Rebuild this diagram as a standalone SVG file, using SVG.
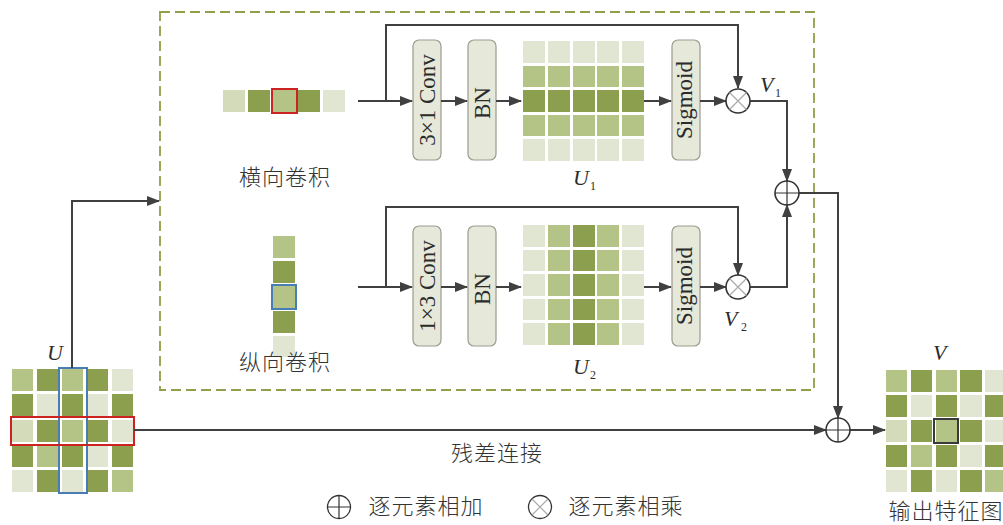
<svg xmlns="http://www.w3.org/2000/svg" width="1003" height="525" viewBox="0 0 1003 525">
<defs>
<style>
.vl{fill:#e0e6d2}.lt{fill:#d3dbbb}.md{fill:#b4c386}.dk{fill:#8b9f4e}
.box{fill:#e6e9d9;stroke:#9c9c90;stroke-width:1.2}
.ln{fill:none;stroke:#404040;stroke-width:2}
.arr{fill:none;stroke:#404040;stroke-width:2;marker-end:url(#ah)}
.op{fill:#fff;stroke:#333;stroke-width:1.6}
.xop{stroke:#aaa;stroke-width:1.2}
.pop{stroke:#333;stroke-width:1.2}
.bt{font-family:"Liberation Serif",serif;font-size:23px;fill:#2b2b2b}
.it{font-family:"Liberation Serif",serif;font-style:italic;font-size:22px;fill:#2b2b2b}
.sub{font-family:"Liberation Serif",serif;font-size:12px;fill:#2b2b2b}
.cn{font-family:"Noto Sans CJK SC","Noto Sans CJK JP",sans-serif;font-size:22px;font-weight:300;letter-spacing:1px;fill:#333;text-anchor:middle}
</style>
<marker id="ah" markerWidth="13" markerHeight="10" refX="12" refY="5" orient="auto" markerUnits="userSpaceOnUse">
<path d="M0,0 L13,5 L0,10 z" fill="#404040"/>
</marker>
</defs>
<rect width="1003" height="525" fill="#fff"/>

<!-- dashed module box -->
<rect id="module" x="160" y="12" width="654" height="378" fill="none" stroke="#8fa048" stroke-width="1.8" stroke-dasharray="10 5"/>

<!-- input grid U -->
<g id="inputU">
<rect class="md" x="12" y="369" width="21" height="22"/><rect class="dk" x="37" y="369" width="21" height="22"/><rect class="md" x="62" y="369" width="21" height="22"/><rect class="dk" x="87" y="369" width="21" height="22"/><rect class="vl" x="112" y="369" width="21" height="22"/>
<rect class="dk" x="12" y="394" width="21" height="22"/><rect class="vl" x="37" y="394" width="21" height="22"/><rect class="dk" x="62" y="394" width="21" height="22"/><rect class="vl" x="87" y="394" width="21" height="22"/><rect class="dk" x="112" y="394" width="21" height="22"/>
<rect class="lt" x="12" y="420" width="21" height="22"/><rect class="dk" x="37" y="420" width="21" height="22"/><rect class="md" x="62" y="420" width="21" height="22"/><rect class="dk" x="87" y="420" width="21" height="22"/><rect class="vl" x="112" y="420" width="21" height="22"/>
<rect class="dk" x="12" y="445" width="21" height="22"/><rect class="md" x="37" y="445" width="21" height="22"/><rect class="dk" x="62" y="445" width="21" height="22"/><rect class="vl" x="87" y="445" width="21" height="22"/><rect class="dk" x="112" y="445" width="21" height="22"/>
<rect class="vl" x="12" y="470" width="21" height="22"/><rect class="dk" x="37" y="470" width="21" height="22"/><rect class="vl" x="62" y="470" width="21" height="22"/><rect class="dk" x="87" y="470" width="21" height="22"/><rect class="md" x="112" y="470" width="21" height="22"/>
<rect x="59" y="368" width="28" height="125" fill="none" stroke="#4a7cb5" stroke-width="2"/>
<rect x="11" y="417" width="123" height="28" fill="none" stroke="#cc2222" stroke-width="2"/>
<text class="it" x="47" y="360">U</text>
</g>

<!-- horizontal strip -->
<g id="hstrip">
<rect class="lt" x="223" y="90" width="22" height="22"/><rect class="dk" x="248" y="90" width="22" height="22"/><rect class="md" x="273" y="90" width="23" height="22"/><rect class="dk" x="298" y="90" width="22" height="22"/><rect class="vl" x="323" y="90" width="22" height="22"/>
<rect x="272" y="89" width="25" height="24" fill="none" stroke="#cc2222" stroke-width="2"/>
<text class="cn" x="285" y="185">横向卷积</text>
</g>

<!-- vertical strip -->
<g id="vstrip">
<rect class="md" x="273" y="236" width="22" height="22"/><rect class="dk" x="273" y="261" width="22" height="22"/><rect class="md" x="273" y="286" width="22" height="22"/><rect class="dk" x="273" y="311" width="22" height="22"/><rect class="vl" x="273" y="336" width="22" height="21"/>
<rect x="272" y="285" width="24" height="24" fill="none" stroke="#4a7cb5" stroke-width="2"/>
<text class="cn" x="285" y="370">纵向卷积</text>
</g>

<!-- top branch boxes -->
<g id="conv31"><rect class="box" x="413" y="40" width="28" height="120" rx="6"/><text class="bt" transform="translate(435,100) rotate(-90)" text-anchor="middle">3×1 Conv</text></g>
<g id="bn1"><rect class="box" x="468" y="40" width="28" height="120" rx="6"/><text class="bt" transform="translate(490,103) rotate(-90)" text-anchor="middle">BN</text></g>
<g id="sig1"><rect class="box" x="672" y="40" width="28" height="120" rx="6"/><text class="bt" transform="translate(692,100) rotate(-90)" text-anchor="middle">Sigmoid</text></g>

<!-- bottom branch boxes -->
<g id="conv13"><rect class="box" x="413" y="226" width="28" height="120" rx="6"/><text class="bt" transform="translate(435,286) rotate(-90)" text-anchor="middle">1×3 Conv</text></g>
<g id="bn2"><rect class="box" x="468" y="226" width="28" height="120" rx="6"/><text class="bt" transform="translate(490,289) rotate(-90)" text-anchor="middle">BN</text></g>
<g id="sig2"><rect class="box" x="672" y="226" width="28" height="120" rx="6"/><text class="bt" transform="translate(692,286) rotate(-90)" text-anchor="middle">Sigmoid</text></g>

<!-- U1 grid -->
<g id="U1">
<rect class="vl" x="523" y="41" width="22" height="22"/><rect class="vl" x="548" y="41" width="22" height="22"/><rect class="vl" x="573" y="41" width="22" height="22"/><rect class="vl" x="597" y="41" width="22" height="22"/><rect class="vl" x="622" y="41" width="22" height="22"/>
<rect class="md" x="523" y="66" width="22" height="21"/><rect class="md" x="548" y="66" width="22" height="21"/><rect class="md" x="573" y="66" width="22" height="21"/><rect class="md" x="597" y="66" width="22" height="21"/><rect class="md" x="622" y="66" width="22" height="21"/>
<rect class="dk" x="523" y="90" width="22" height="22"/><rect class="dk" x="548" y="90" width="22" height="22"/><rect class="dk" x="573" y="90" width="22" height="22"/><rect class="dk" x="597" y="90" width="22" height="22"/><rect class="dk" x="622" y="90" width="22" height="22"/>
<rect class="md" x="523" y="115" width="22" height="21"/><rect class="md" x="548" y="115" width="22" height="21"/><rect class="md" x="573" y="115" width="22" height="21"/><rect class="md" x="597" y="115" width="22" height="21"/><rect class="md" x="622" y="115" width="22" height="21"/>
<rect class="vl" x="523" y="139" width="22" height="22"/><rect class="vl" x="548" y="139" width="22" height="22"/><rect class="vl" x="573" y="139" width="22" height="22"/><rect class="vl" x="597" y="139" width="22" height="22"/><rect class="vl" x="622" y="139" width="22" height="22"/>
<text class="it" x="573" y="185">U</text><text class="sub" x="590" y="190">1</text>
</g>

<!-- U2 grid -->
<g id="U2">
<rect class="vl" x="523" y="225" width="22" height="22"/><rect class="md" x="548" y="225" width="22" height="22"/><rect class="dk" x="573" y="225" width="22" height="22"/><rect class="md" x="597" y="225" width="22" height="22"/><rect class="vl" x="622" y="225" width="22" height="22"/>
<rect class="vl" x="523" y="250" width="22" height="21"/><rect class="md" x="548" y="250" width="22" height="21"/><rect class="dk" x="573" y="250" width="22" height="21"/><rect class="md" x="597" y="250" width="22" height="21"/><rect class="vl" x="622" y="250" width="22" height="21"/>
<rect class="vl" x="523" y="274" width="22" height="22"/><rect class="md" x="548" y="274" width="22" height="22"/><rect class="dk" x="573" y="274" width="22" height="22"/><rect class="md" x="597" y="274" width="22" height="22"/><rect class="vl" x="622" y="274" width="22" height="22"/>
<rect class="vl" x="523" y="299" width="22" height="21"/><rect class="md" x="548" y="299" width="22" height="21"/><rect class="dk" x="573" y="299" width="22" height="21"/><rect class="md" x="597" y="299" width="22" height="21"/><rect class="vl" x="622" y="299" width="22" height="21"/>
<rect class="vl" x="523" y="323" width="22" height="22"/><rect class="md" x="548" y="323" width="22" height="22"/><rect class="dk" x="573" y="323" width="22" height="22"/><rect class="md" x="597" y="323" width="22" height="22"/><rect class="vl" x="622" y="323" width="22" height="22"/>
<text class="it" x="573" y="374">U</text><text class="sub" x="590" y="379">2</text>
</g>

<!-- output grid V -->
<g id="outputV">
<rect class="md" x="886" y="370" width="21" height="22"/><rect class="dk" x="911" y="370" width="21" height="22"/><rect class="md" x="936" y="370" width="21" height="22"/><rect class="dk" x="960" y="370" width="22" height="22"/><rect class="vl" x="985" y="370" width="18" height="22"/>
<rect class="dk" x="886" y="395" width="21" height="22"/><rect class="vl" x="911" y="395" width="21" height="22"/><rect class="dk" x="936" y="395" width="21" height="22"/><rect class="vl" x="960" y="395" width="22" height="22"/><rect class="dk" x="985" y="395" width="18" height="22"/>
<rect class="lt" x="886" y="420" width="21" height="22"/><rect class="dk" x="911" y="420" width="21" height="22"/><rect class="md" x="936" y="420" width="21" height="22"/><rect class="dk" x="960" y="420" width="22" height="22"/><rect class="vl" x="985" y="420" width="18" height="22"/>
<rect class="dk" x="886" y="445" width="21" height="22"/><rect class="md" x="911" y="445" width="21" height="22"/><rect class="dk" x="936" y="445" width="21" height="22"/><rect class="vl" x="960" y="445" width="22" height="22"/><rect class="dk" x="985" y="445" width="18" height="22"/>
<rect class="vl" x="886" y="470" width="21" height="22"/><rect class="dk" x="911" y="470" width="21" height="22"/><rect class="vl" x="936" y="470" width="21" height="22"/><rect class="dk" x="960" y="470" width="22" height="22"/><rect class="md" x="985" y="470" width="18" height="22"/>
<rect x="934" y="419" width="24" height="24" fill="none" stroke="#3a3a3a" stroke-width="2"/>
<text class="it" x="933" y="360">V</text>
<text class="cn" x="946" y="519">输出特征图</text>
</g>

<!-- connectors -->
<g id="connectors">
<path class="arr" d="M72,368 V201 H159"/>
<path class="arr" d="M358,101 H412"/>
<path class="ln" d="M386,101 V25 H738 V82"/>
<path class="arr" d="M738,80 V88"/>
<path class="arr" d="M441,101 H467"/>
<path class="arr" d="M496,101 H521"/>
<path class="arr" d="M644,101 H671"/>
<path class="arr" d="M700,101 H726"/>
<path class="arr" d="M750,101 H787 V181"/>
<path class="arr" d="M358,287 H412"/>
<path class="ln" d="M386,287 V207 H738 V268"/>
<path class="arr" d="M738,266 V275"/>
<path class="arr" d="M441,287 H467"/>
<path class="arr" d="M496,287 H521"/>
<path class="arr" d="M644,287 H671"/>
<path class="arr" d="M700,287 H726"/>
<path class="arr" d="M750,287 H787 V205"/>
<path class="arr" d="M799,193 H838 V418"/>
<path class="arr" d="M134,430 H826"/>
<path class="arr" d="M850,430 H885"/>
</g>

<!-- operators -->
<g id="mul1"><circle class="op" cx="738" cy="101" r="12"/><path class="xop" d="M729.5,92.5 L746.5,109.5 M746.5,92.5 L729.5,109.5"/></g>
<g id="mul2"><circle class="op" cx="738" cy="287" r="12"/><path class="xop" d="M729.5,278.5 L746.5,295.5 M746.5,278.5 L729.5,295.5"/></g>
<g id="add1"><circle class="op" cx="787" cy="193" r="12"/><path class="pop" d="M775,193 H799 M787,181 V205"/></g>
<g id="add2"><circle class="op" cx="838" cy="430" r="12"/><path class="pop" d="M826,430 H850 M838,418 V442"/></g>

<!-- labels -->
<g id="labelV1"><text class="it" x="760" y="92">V</text><text class="sub" x="775" y="97">1</text></g>
<g id="labelV2"><text class="it" x="724" y="326">V</text><text class="sub" x="741" y="331">2</text></g>
<text class="cn" x="497" y="461">残差连接</text>

<!-- legend -->
<g id="legend">
<circle cx="339" cy="507" r="11.5" fill="#fff" stroke="#333" stroke-width="1.3"/>
<path class="pop" d="M327.5,507 H350.5 M339,495.5 V518.5"/>
<text class="cn" x="426" y="514">逐元素相加</text>
<circle cx="540" cy="507" r="11.5" fill="#fff" stroke="#333" stroke-width="1.3"/>
<path class="xop" d="M532,499 L548,515 M548,499 L532,515"/>
<text class="cn" x="626" y="514">逐元素相乘</text>
</g>
</svg>
